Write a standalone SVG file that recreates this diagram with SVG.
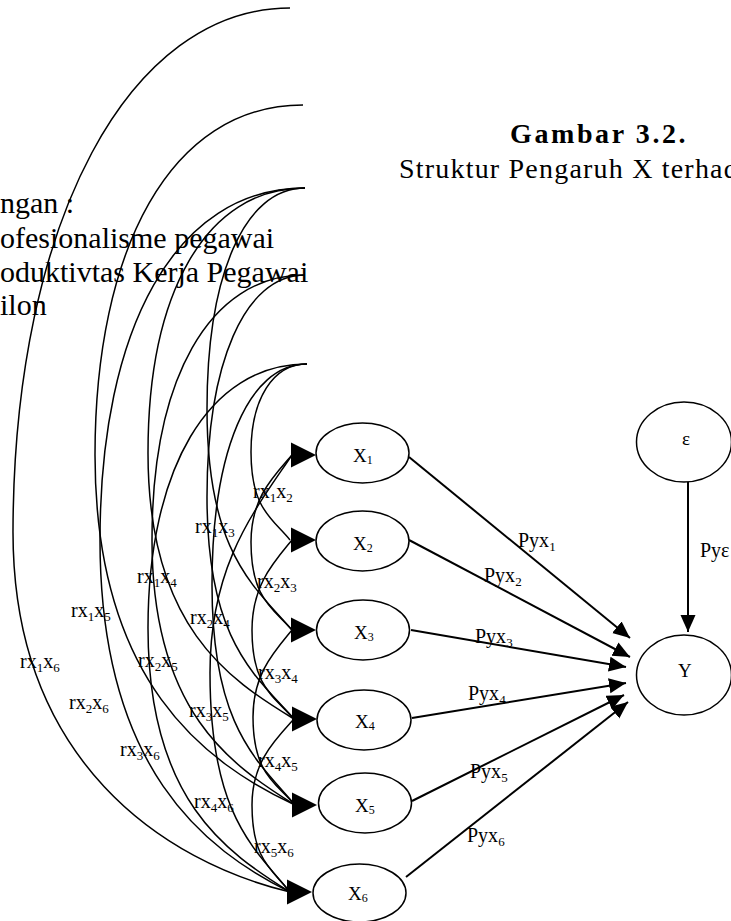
<svg xmlns="http://www.w3.org/2000/svg" xmlns:xlink="http://www.w3.org/1999/xlink" width="731" height="921" viewBox="0 0 731 921">
<style>
text { font-family: "Liberation Serif", "Times New Roman", serif; fill: #000; }
.lb { font-size: 20px; }
.nd { font-size: 19px; }
.s { font-size: 13px; }
.ns { font-size: 12px; }
.leg { font-size: 30px; }
.ttl { font-size: 28px; font-weight: bold; letter-spacing: 2.6px; }
.sub { font-size: 28px; letter-spacing: 1.2px; }
.node ellipse { fill: #fff; stroke: #000; stroke-width: 1.5; }
.curve { fill: none; stroke: #000; stroke-width: 1.5; }
.arr { fill: none; stroke: #000; stroke-width: 2; marker-end: url(#mk); }
</style>
<defs>
<marker id="mk" markerUnits="userSpaceOnUse" markerWidth="18" markerHeight="16" refX="17" refY="7.5" orient="auto">
<path d="M0,0 L17,7.5 L0,15 z" fill="#000"/>
</marker>
<polygon id="ah" points="0,0 -25,-12.5 -25,12.5" fill="#000"/>
</defs>
<rect width="731" height="921" fill="#fff"/>

<g id="legend">
<text class="leg" x="0" y="213">ngan :</text>
<text class="leg" x="0" y="248">ofesionalisme pegawai</text>
<text class="leg" x="0" y="282">oduktivtas Kerja Pegawai</text>
<text class="leg" x="0" y="315">ilon</text>
</g>
<g id="title">
<text class="ttl" x="510" y="143">Gambar 3.2.</text>
<text class="sub" x="399" y="178">Struktur Pengaruh X terhad</text>
</g>

<g id="connectors">
<path class="curve" d="M290,8 C130,8 14,220 13,530 C12,762 165,862 290,892"/>
<path class="curve" d="M303,105 C170,105 95,250 95,455 C95,682 205,763 295,805"/>
<path class="curve" d="M305,188 C175,188 100,329 100,540 C100,769 205,850 290,892"/>
<path class="curve" d="M305,188 C205,188 148,294 148,453 C148,626 228,679 294,719"/>
<path class="curve" d="M305,275 C208,275 152,381 152,540 C152,712 231,765 295,805"/>
<path class="curve" d="M307,364 C208,364 148,470 148,628 C148,800 226,852 290,892"/>
<path class="curve" d="M305,188 C244,188 207,276 207,409 C207,553 254,586 292,630"/>
<path class="curve" d="M305,275 C244,275 207,364 207,497 C207,641 255,675 294,719"/>
<path class="curve" d="M307,364 C248,364 212,452 212,585 C212,728 258,761 295,805"/>
<path class="curve" d="M292,455 C255,510 210,564 210,673 C210,815 254,848 290,892"/>
<path class="curve" d="M307,364 C273,364 251,399 251,452 C251,509 272,518 290,540"/>
<path class="curve" d="M292,455 C273,477 251,498 251,542 C251,599 273,608 292,630"/>
<path class="curve" d="M292,540 C274,562 252,585 252,630 C252,688 275,697 294,719"/>
<path class="curve" d="M292,630 C274,652 253,674 253,717 C253,774 276,783 295,805"/>
<path class="curve" d="M294,719 C275,740 252,762 252,805 C252,861 273,870 290,892"/>
<use xlink:href="#ah" x="316" y="455"/>
<use xlink:href="#ah" x="316" y="540"/>
<use xlink:href="#ah" x="316" y="630"/>
<use xlink:href="#ah" x="317" y="719"/>
<use xlink:href="#ah" x="317" y="805"/>
<use xlink:href="#ah" x="312" y="892"/>
<line class="arr" x1="409" y1="457" x2="630" y2="638"/>
<line class="arr" x1="409" y1="540" x2="630" y2="657"/>
<line class="arr" x1="411" y1="630" x2="626" y2="667"/>
<line class="arr" x1="412" y1="718" x2="626" y2="683"/>
<line class="arr" x1="412" y1="801" x2="624" y2="695"/>
<line class="arr" x1="406" y1="877" x2="628" y2="702"/>
<line class="arr" x1="688" y1="482" x2="688" y2="632"/>
</g>

<g id="labels">
<text class="lb" x="253" y="498">rx<tspan class="s" dy="4">1</tspan><tspan dy="-4">x</tspan><tspan class="s" dy="4">2</tspan></text>
<text class="lb" x="195" y="533">rx<tspan class="s" dy="4">1</tspan><tspan dy="-4">x</tspan><tspan class="s" dy="4">3</tspan></text>
<text class="lb" x="257" y="588">rx<tspan class="s" dy="4">2</tspan><tspan dy="-4">x</tspan><tspan class="s" dy="4">3</tspan></text>
<text class="lb" x="137" y="583">rx<tspan class="s" dy="4">1</tspan><tspan dy="-4">x</tspan><tspan class="s" dy="4">4</tspan></text>
<text class="lb" x="190" y="624">rx<tspan class="s" dy="4">2</tspan><tspan dy="-4">x</tspan><tspan class="s" dy="4">4</tspan></text>
<text class="lb" x="71" y="617">rx<tspan class="s" dy="4">1</tspan><tspan dy="-4">x</tspan><tspan class="s" dy="4">5</tspan></text>
<text class="lb" x="258" y="679">rx<tspan class="s" dy="4">3</tspan><tspan dy="-4">x</tspan><tspan class="s" dy="4">4</tspan></text>
<text class="lb" x="20" y="668">rx<tspan class="s" dy="4">1</tspan><tspan dy="-4">x</tspan><tspan class="s" dy="4">6</tspan></text>
<text class="lb" x="138" y="667">rx<tspan class="s" dy="4">2</tspan><tspan dy="-4">x</tspan><tspan class="s" dy="4">5</tspan></text>
<text class="lb" x="69" y="709">rx<tspan class="s" dy="4">2</tspan><tspan dy="-4">x</tspan><tspan class="s" dy="4">6</tspan></text>
<text class="lb" x="189" y="717">rx<tspan class="s" dy="4">3</tspan><tspan dy="-4">x</tspan><tspan class="s" dy="4">5</tspan></text>
<text class="lb" x="120" y="756">rx<tspan class="s" dy="4">3</tspan><tspan dy="-4">x</tspan><tspan class="s" dy="4">6</tspan></text>
<text class="lb" x="258" y="767">rx<tspan class="s" dy="4">4</tspan><tspan dy="-4">x</tspan><tspan class="s" dy="4">5</tspan></text>
<text class="lb" x="194" y="808">rx<tspan class="s" dy="4">4</tspan><tspan dy="-4">x</tspan><tspan class="s" dy="4">6</tspan></text>
<text class="lb" x="254" y="853">rx<tspan class="s" dy="4">5</tspan><tspan dy="-4">x</tspan><tspan class="s" dy="4">6</tspan></text>
<text class="lb" x="518" y="547">Pyx<tspan class="s" dy="4">1</tspan></text>
<text class="lb" x="484" y="582">Pyx<tspan class="s" dy="4">2</tspan></text>
<text class="lb" x="475" y="643">Pyx<tspan class="s" dy="4">3</tspan></text>
<text class="lb" x="468" y="700">Pyx<tspan class="s" dy="4">4</tspan></text>
<text class="lb" x="470" y="778">Pyx<tspan class="s" dy="4">5</tspan></text>
<text class="lb" x="467" y="842">Pyx<tspan class="s" dy="4">6</tspan></text>
<text class="lb" x="700" y="557">Pyε</text>
</g>

<g id="X1" class="node"><ellipse cx="362.5" cy="453" rx="46.5" ry="30"/><text class="nd" x="353" y="462">X<tspan class="ns" dy="2">1</tspan></text></g>
<g id="X2" class="node"><ellipse cx="362.5" cy="541" rx="46.5" ry="30"/><text class="nd" x="353" y="550">X<tspan class="ns" dy="2">2</tspan></text></g>
<g id="X3" class="node"><ellipse cx="363" cy="630" rx="46.5" ry="30"/><text class="nd" x="354" y="639">X<tspan class="ns" dy="2">3</tspan></text></g>
<g id="X4" class="node"><ellipse cx="364" cy="720" rx="47" ry="30"/><text class="nd" x="355" y="728">X<tspan class="ns" dy="2">4</tspan></text></g>
<g id="X5" class="node"><ellipse cx="365" cy="803" rx="46.5" ry="30"/><text class="nd" x="355" y="812">X<tspan class="ns" dy="2">5</tspan></text></g>
<g id="X6" class="node"><ellipse cx="359.5" cy="893" rx="46.5" ry="29"/><text class="nd" x="348" y="900">X<tspan class="ns" dy="2">6</tspan></text></g>
<g id="E" class="node"><ellipse cx="684" cy="442" rx="47.5" ry="40"/><text class="nd" x="682" y="445">ε</text></g>
<g id="Y" class="node"><ellipse cx="684" cy="675" rx="47.5" ry="40"/><text class="nd" x="678" y="677">Y</text></g>
</svg>
